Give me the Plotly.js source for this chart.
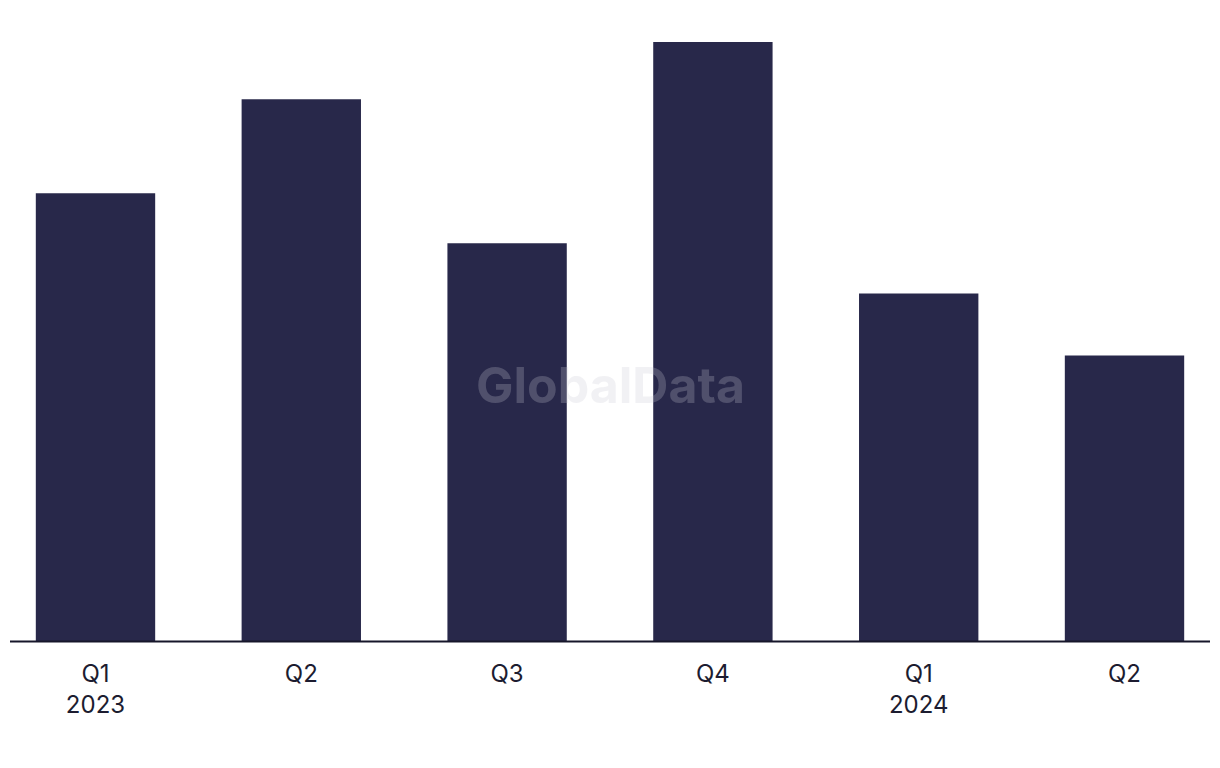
<!DOCTYPE html>
<html>
<head>
<meta charset="utf-8">
<script src="https://cdn.plot.ly/plotly-3.0.1.min.js"></script>
<style>html,body{margin:0;padding:0;background:#fff;}#chart{width:1220px;height:768px;}</style>
</head>
<body>
<div id="chart"></div>
<script>
const categories = ["Q1<br>2023", "Q2", "Q3", "Q4", "Q1<br>2024", "Q2"];
const categoryKeys = ["Q1 2023", "Q2 2023", "Q3 2023", "Q4 2023", "Q1 2024", "Q2 2024"];
const values = [44.8, 54.2, 39.8, 59.9, 34.8, 28.6];

const trace = {
  type: "bar",
  x: categoryKeys,
  y: values,
  marker: {color: "#28284a"},
  hoverinfo: "x+y"
};

const layout = {
  width: 1220,
  height: 768,
  margin: {l: 0, r: 0, t: 21, b: 126},
  paper_bgcolor: "#ffffff",
  plot_bgcolor: "#ffffff",
  bargap: 0.42,
  showlegend: false,
  xaxis: {
    type: "category",
    range: [-0.464, 5.464],
    tickvals: categoryKeys,
    ticktext: categories,
    showgrid: false,
    zeroline: false,
    showline: false,
    ticks: "",
    ticklabelstandoff: 15,
    tickfont: {family: "Inter, 'Liberation Sans', sans-serif", size: 24, color: "#1c1c30"},
    fixedrange: true
  },
  yaxis: {
    range: [0, 62.0],
    visible: false,
    showgrid: false,
    zeroline: false,
    fixedrange: true
  },
  shapes: [{
    type: "line", xref: "paper", yref: "paper",
    x0: 10/1220, x1: 1210/1220, y0: 0.0008, y1: 0.0008,
    line: {color: "#16162a", width: 2}
  }],
  annotations: [{
    text: "<b>GlobalData</b>",
    xref: "paper", yref: "paper",
    x: 610/1220, y: (642-385)/621,
    showarrow: false,
    font: {family: "Inter, 'Liberation Sans', sans-serif", size: 50, color: "rgba(200,200,210,0.25)"},
    xanchor: "center", yanchor: "middle"
  }]
};

Plotly.newPlot("chart", [trace], layout, {displayModeBar: false, staticPlot: true});
</script>
</body>
</html>
